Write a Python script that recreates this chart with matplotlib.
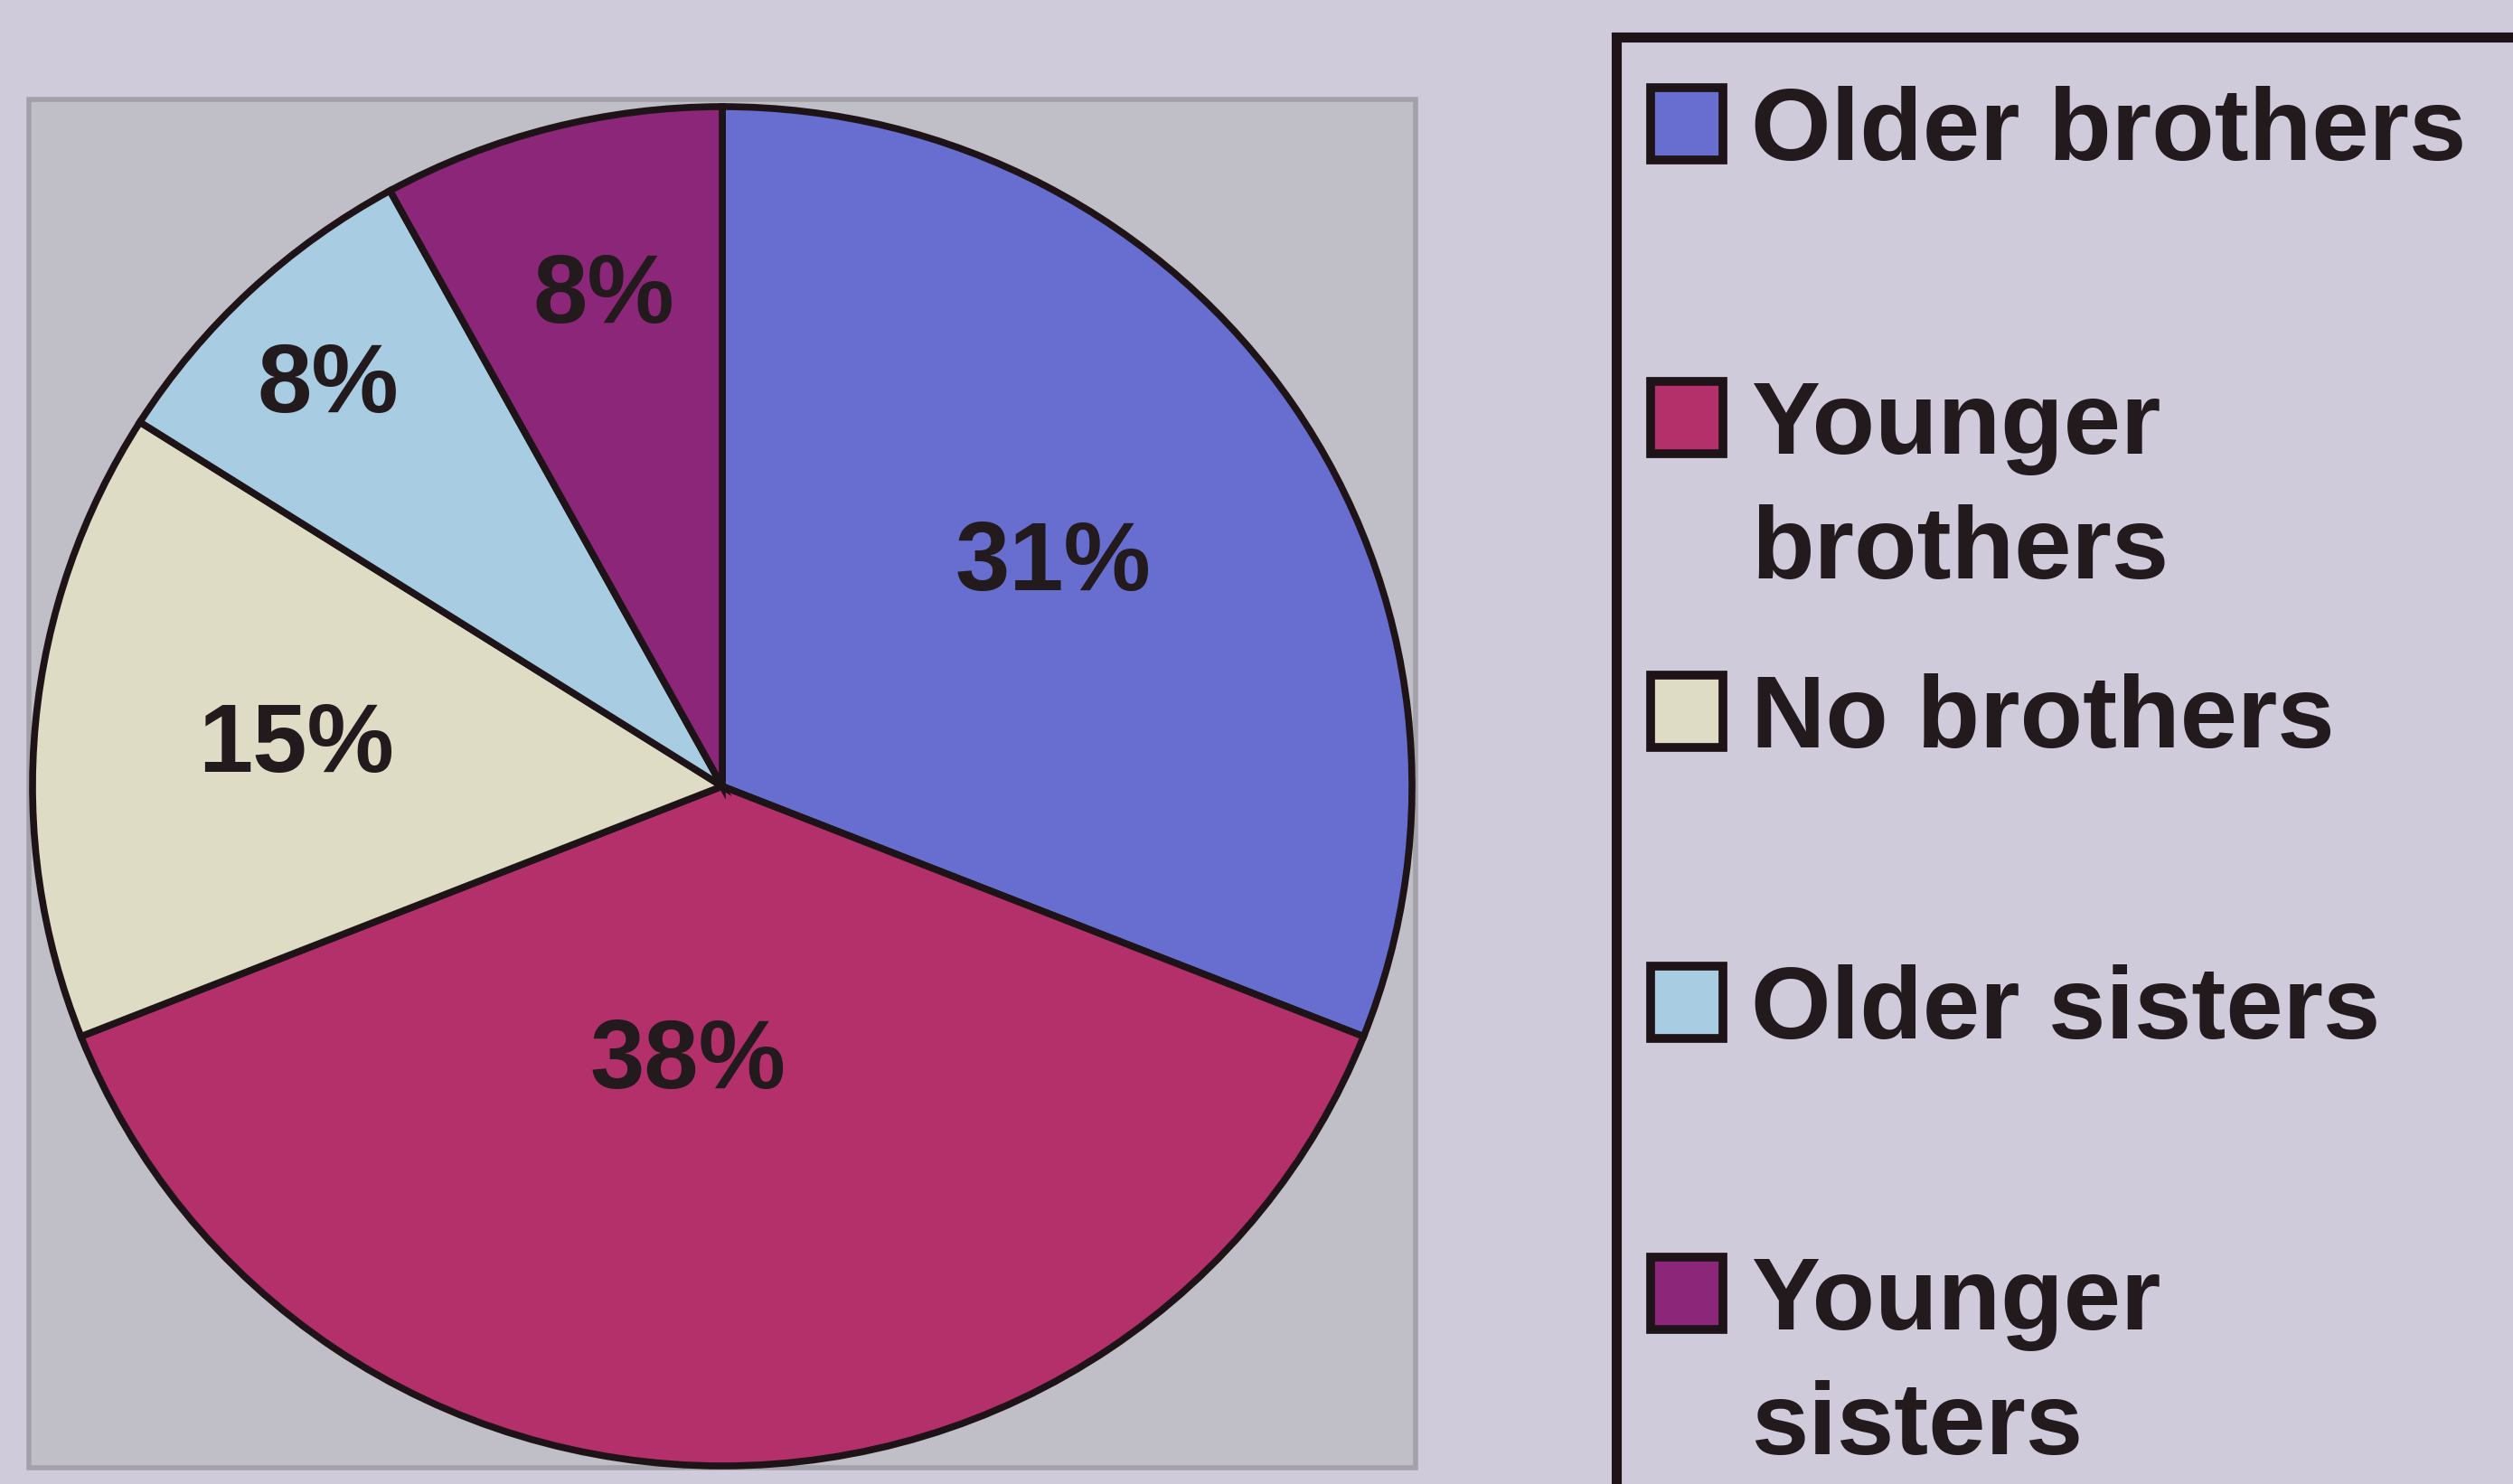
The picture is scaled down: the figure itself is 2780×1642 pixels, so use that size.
import numpy as np
import matplotlib.pyplot as plt
from matplotlib.patches import Rectangle

# share of each sibling situation, clockwise from 12 o'clock
labels = ['Older brothers', 'Younger\nbrothers', 'No brothers', 'Older sisters', 'Younger\nsisters']
values = [31, 38, 15, 8, 8]
colors = ['#686ECF', '#B4306A', '#DEDCC4', '#A8CCE2', '#8C2678']
pct_labels = ['31%', '38%', '15%', '8%', '8%']

edge = '#1E1418'
bg = '#CFCBDA'

plt.rcParams['font.family'] = ['Liberation Sans', 'DejaVu Sans']

W, H = 2780, 1642
fig = plt.figure(figsize=(W / 100, H / 100), dpi=100, facecolor=bg)

# grey plot area behind the pie
fig.patches.append(Rectangle((32 / W, 1 - 1624 / H), (1566 - 32) / W, (1624 - 110) / H,
                             transform=fig.transFigure, facecolor='#C0BEC6',
                             edgecolor='#A3A1A8', linewidth=4, zorder=-5))

ax = fig.add_axes([36 / W, 1 - 1622 / H, 1526 / W, 1504 / H])
ax.set_zorder(2)
ax.set_facecolor('none')
wedges, _ = ax.pie(values, colors=colors, startangle=90, counterclock=False,
                   wedgeprops={'edgecolor': edge, 'linewidth': 5.5})
ax.set_aspect('auto')
ax.set_xlim(-1.0, 1.0)
ax.set_ylim(-1.0, 1.0)
ax.axis('off')

# percentage labels, placed like Excel did (distance from centre varies)
label_r = [0.58, 0.41, 0.62, 0.82, 0.74]
label_shift = [0, -7, 0, 1, -1]  # degrees
for w, txt, r, s in zip(wedges, pct_labels, label_r, label_shift):
    ang = np.deg2rad((w.theta1 + w.theta2) / 2 + s)
    ax.text(r * np.cos(ang), r * np.sin(ang), txt, ha='center', va='center',
            fontsize=78, fontweight='bold', color='#231A1E')

# legend box (runs off the right and bottom edges)
fig.patches.append(Rectangle((1788 / W, -0.1), 0.5, 1.1 - 41 / H,
                             transform=fig.transFigure, facecolor='none',
                             edgecolor=edge, linewidth=8, zorder=3))

base = [177, 502, 827, 1149, 1471]
for y, lab, c in zip(base, labels, colors):
    fig.patches.append(Rectangle((1826 / W, 1 - y / H), 80 / W, 80 / H,
                                 transform=fig.transFigure, facecolor=c,
                                 edgecolor=edge, linewidth=7, zorder=3))
    for i, line in enumerate(lab.split('\n')):
        fig.text(1937 / W, 1 - (y + i * 138) / H, line, ha='left', va='baseline',
                 fontsize=82, fontweight='bold', color='#231A1E')

fig.savefig('out.png', dpi=100, facecolor=bg)
